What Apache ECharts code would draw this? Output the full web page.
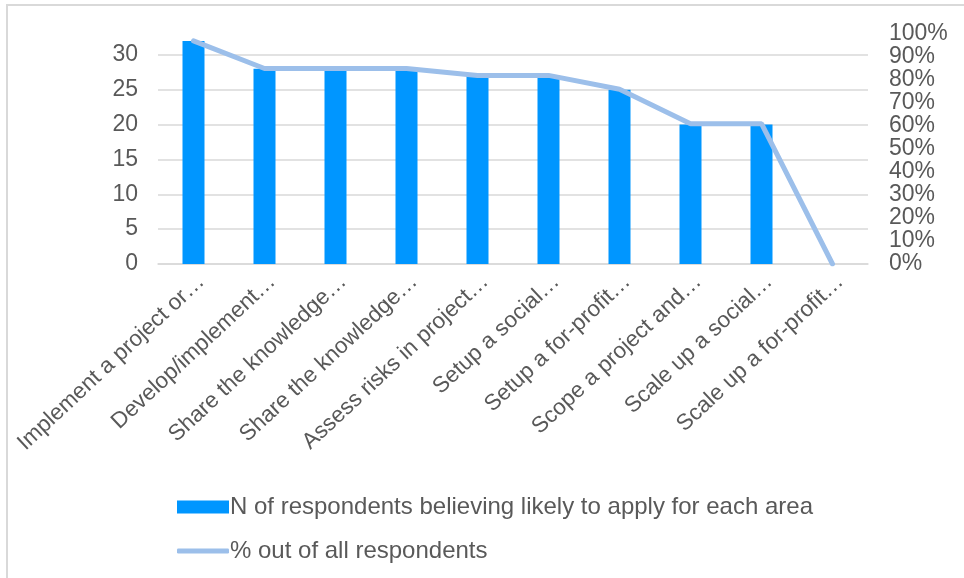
<!DOCTYPE html>
<html>
<head>
<meta charset="utf-8">
<script src="https://cdn.jsdelivr.net/npm/echarts@6/dist/echarts.min.js"></script>
<style>
  html, body { margin: 0; padding: 0; background: #fff; }
  #chart { width: 964px; height: 578px; }
</style>
</head>
<body>
<div id="chart"></div>
<script>
// data
const categories = [
  'Implement a project or…',
  'Develop/implement…',
  'Share the knowledge…',
  'Share the knowledge…',
  'Assess risks in project…',
  'Setup a social…',
  'Setup a for-profit…',
  'Scope a project and…',
  'Scale up a social…',
  'Scale up a for-profit…'
];
const respondents = [32, 28, 28, 28, 27, 27, 25, 20, 20, 0];
const percentOfAll = [97, 85, 85, 85, 82, 82, 76, 61, 61, 0];
const seriesNames = ['N of respondents believing likely to apply for each area', '% out of all respondents'];

const font = 'Liberation Sans, Arial, sans-serif';
const grey = '#595959';
const barColor = '#0096FF';
const lineColor = '#9CBFEA';

let chart = echarts.init(document.getElementById('chart'), null, { renderer: 'canvas' });

let legendText = { fontFamily: font, fontSize: 24, color: grey, padding: [0, 0, 0, -4] };

let option = {
  animation: false,
  backgroundColor: '#fff',
  grid: { left: 158, right: 96, top: 34, bottom: 314 },
  // two legends so each icon can have its own height
  legend: [
    {
      left: 172,
      top: 490,
      itemWidth: 52,
      itemHeight: 13,
      textStyle: legendText,
      data: [{ name: seriesNames[0], icon: 'rect' }]
    },
    {
      left: 172,
      top: 534,
      itemWidth: 52,
      itemHeight: 5,
      textStyle: legendText,
      data: [{ name: seriesNames[1], icon: 'roundRect', itemStyle: { color: lineColor } }]
    }
  ],
  xAxis: {
    type: 'category',
    data: categories,
    axisLine: { show: true, lineStyle: { color: '#d9d9d9', width: 1.5 } },
    axisTick: { show: false },
    axisLabel: {
      interval: 0,
      rotate: 43,
      margin: 6,
      verticalAlign: 'top',
      fontFamily: font,
      fontSize: 22.5,
      color: grey
    }
  },
  yAxis: [
    {
      type: 'value',
      min: 0,
      max: 33,
      interval: 5,
      axisLine: { show: false },
      axisTick: { show: false },
      axisLabel: { showMaxLabel: false, margin: 20, fontFamily: font, fontSize: 23, color: grey },
      splitLine: { show: true, showMaxLine: false, lineStyle: { color: '#d9d9d9', width: 1.5 } }
    },
    {
      type: 'value',
      min: 0,
      max: 100,
      interval: 10,
      axisLine: { show: false },
      axisTick: { show: false },
      axisLabel: { margin: 21, fontFamily: font, fontSize: 23, color: grey, formatter: '{value}%' },
      splitLine: { show: false }
    }
  ],
  series: [
    {
      name: seriesNames[0],
      type: 'bar',
      data: respondents,
      barWidth: 22,
      itemStyle: { color: barColor }
    },
    {
      name: seriesNames[1],
      type: 'line',
      yAxisIndex: 1,
      data: percentOfAll,
      symbol: 'none',
      lineStyle: { color: lineColor, width: 5, cap: 'round' },
      itemStyle: { color: lineColor }
    }
  ],
  graphic: [
    {
      type: 'polyline',
      shape: { points: [[7, 578], [7, 5], [964, 5]] },
      style: { stroke: '#d9d9d9', lineWidth: 2, fill: null }
    }
  ]
};

chart.setOption(option);
</script>
</body>
</html>
